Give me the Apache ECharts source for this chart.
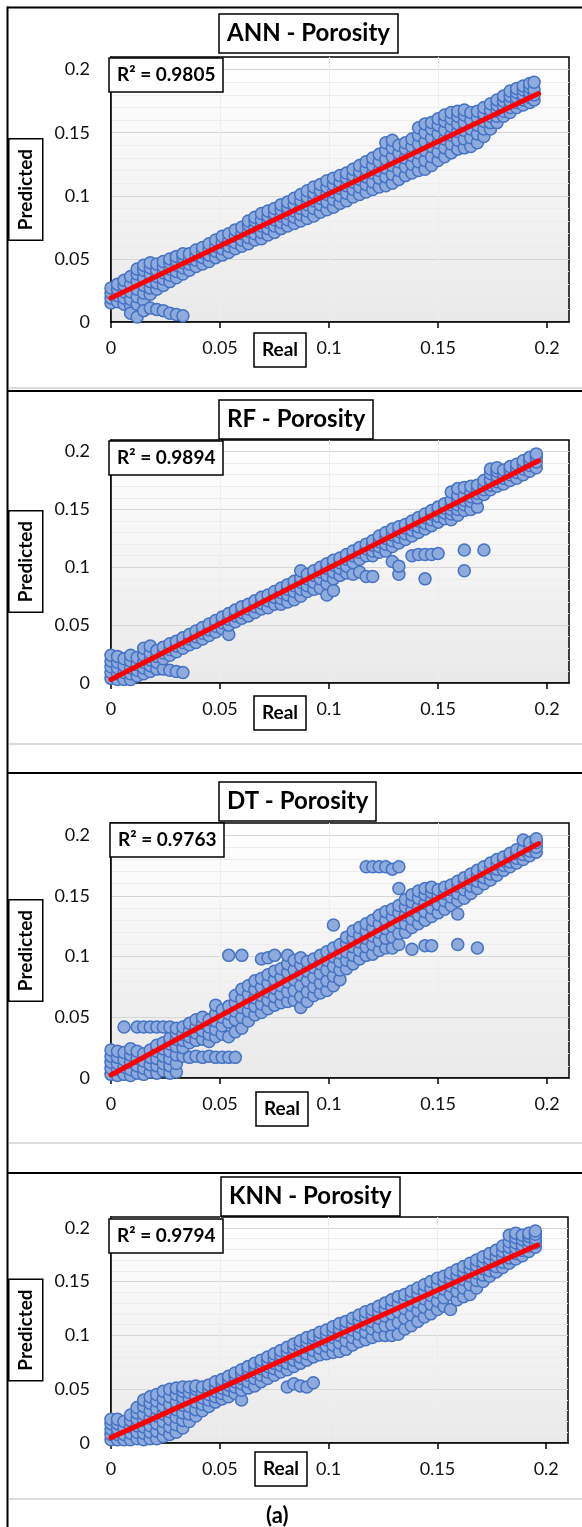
<!DOCTYPE html>
<html>
<head>
<meta charset="utf-8">
<title>Porosity - Real vs Predicted</title>
<script src="https://cdn.jsdelivr.net/npm/echarts@6/dist/echarts.min.js"></script>
<style>
    * { margin: 0; padding: 0; }
    body { background: #fff; overflow: hidden; }
    #main { width: 582px; height: 1527px; }
</style>
</head>
<body>
<div id="main"></div>
<script>
// shared tick labels
var tickVals = [0, 0.05, 0.1, 0.15, 0.2];

var panelNames = ['ANN - Porosity', 'RF - Porosity', 'DT - Porosity', 'KNN - Porosity'];
var r2Labels = ['R² = 0.9805', 'R² = 0.9894', 'R² = 0.9763', 'R² = 0.9794'];

// trend line ends [real, predicted]
var annTrend = [[0, 0.019], [0.196, 0.181]];
var rfTrend = [[0, 0.003], [0.196, 0.192]];
var dtTrend = [[0, 0.0025], [0.196, 0.193]];
var knnTrend = [[0, 0.005], [0.196, 0.184]];

// scatter columns: [real, predicted, predicted, ...]
var annRows = [
    [0.000, 0.015,0.019,0.023,0.027],
    [0.003, 0.016,0.021,0.026,0.030],
    [0.006, 0.014,0.019,0.024,0.029,0.033],
    [0.009, 0.013,0.018,0.024,0.030,0.036,0.007],
    [0.012, 0.014,0.020,0.026,0.032,0.038,0.042,0.004],
    [0.015, 0.017,0.023,0.029,0.035,0.041,0.045,0.009],
    [0.018, 0.022,0.027,0.032,0.038,0.043,0.047,0.011],
    [0.021, 0.026,0.031,0.036,0.041,0.046,0.010],
    [0.024, 0.029,0.034,0.039,0.044,0.048,0.009],
    [0.027, 0.032,0.037,0.042,0.047,0.050,0.007],
    [0.030, 0.035,0.040,0.045,0.049,0.052,0.006],
    [0.033, 0.038,0.043,0.047,0.051,0.054,0.005],
    [0.036, 0.041,0.046,0.050,0.054],
    [0.039, 0.044,0.049,0.053,0.057],
    [0.042, 0.046,0.051,0.055,0.059],
    [0.045, 0.048,0.053,0.058,0.062],
    [0.048, 0.051,0.056,0.060,0.065],
    [0.051, 0.053,0.058,0.063,0.068],
    [0.054, 0.055,0.060,0.065,0.070],
    [0.057, 0.058,0.063,0.068,0.073],
    [0.060, 0.060,0.065,0.070,0.075],
    [0.063, 0.062,0.067,0.072,0.077,0.080],
    [0.066, 0.065,0.070,0.075,0.080,0.083],
    [0.069, 0.066,0.071,0.076,0.081,0.086],
    [0.072, 0.069,0.074,0.079,0.084,0.088],
    [0.075, 0.071,0.076,0.081,0.086,0.090],
    [0.078, 0.074,0.079,0.084,0.089,0.093],
    [0.081, 0.076,0.081,0.086,0.091,0.095],
    [0.084, 0.078,0.083,0.088,0.093,0.098],
    [0.087, 0.080,0.085,0.090,0.096,0.101],
    [0.090, 0.082,0.088,0.093,0.099,0.104],
    [0.093, 0.084,0.090,0.096,0.102,0.107],
    [0.096, 0.087,0.093,0.098,0.104,0.109],
    [0.099, 0.089,0.095,0.101,0.107,0.112],
    [0.102, 0.091,0.097,0.103,0.109,0.114],
    [0.105, 0.094,0.100,0.106,0.111,0.116],
    [0.108, 0.096,0.102,0.108,0.114,0.118],
    [0.111, 0.099,0.105,0.111,0.116,0.121],
    [0.114, 0.101,0.107,0.113,0.119,0.124],
    [0.117, 0.103,0.109,0.115,0.121,0.127],
    [0.120, 0.105,0.111,0.118,0.124,0.130],
    [0.123, 0.107,0.114,0.120,0.127,0.133],
    [0.126, 0.108,0.115,0.122,0.129,0.136,0.142],
    [0.129, 0.110,0.117,0.124,0.131,0.138,0.144],
    [0.132, 0.113,0.120,0.127,0.134,0.140],
    [0.135, 0.116,0.123,0.130,0.137,0.142],
    [0.138, 0.118,0.125,0.132,0.139,0.145],
    [0.141, 0.120,0.127,0.134,0.141,0.148,0.154],
    [0.144, 0.121,0.128,0.136,0.143,0.150,0.157],
    [0.147, 0.124,0.131,0.139,0.146,0.153,0.158],
    [0.150, 0.128,0.135,0.142,0.149,0.156,0.161],
    [0.153, 0.131,0.138,0.145,0.152,0.159,0.164],
    [0.156, 0.134,0.141,0.148,0.155,0.161,0.166],
    [0.159, 0.137,0.144,0.151,0.157,0.163,0.167],
    [0.162, 0.138,0.145,0.152,0.158,0.164,0.168],
    [0.165, 0.139,0.146,0.153,0.160,0.166],
    [0.168, 0.142,0.149,0.156,0.162,0.167],
    [0.171, 0.147,0.153,0.159,0.165,0.170],
    [0.174, 0.153,0.158,0.163,0.168,0.173],
    [0.177, 0.158,0.163,0.167,0.172,0.176],
    [0.180, 0.163,0.167,0.171,0.175,0.179],
    [0.183, 0.166,0.170,0.175,0.179,0.183],
    [0.186, 0.170,0.174,0.178,0.182,0.185],
    [0.189, 0.172,0.176,0.180,0.184,0.187],
    [0.192, 0.174,0.178,0.182,0.186,0.189],
    [0.194, 0.176,0.180,0.184,0.190]
];

var rfRows = [
    [0.000, 0.004,0.009,0.014,0.019,0.024],
    [0.003, 0.003,0.008,0.013,0.018,0.023],
    [0.006, 0.003,0.009,0.015,0.021],
    [0.009, 0.003,0.008,0.013,0.019,0.024],
    [0.012, 0.006,0.011,0.016,0.022],
    [0.015, 0.008,0.013,0.018,0.024,0.030],
    [0.018, 0.010,0.015,0.020,0.026,0.032],
    [0.021, 0.012,0.018,0.023,0.028],
    [0.024, 0.012,0.021,0.026,0.031],
    [0.027, 0.011,0.024,0.029,0.034],
    [0.030, 0.010,0.027,0.032,0.036],
    [0.033, 0.009,0.030,0.035,0.039],
    [0.036, 0.033,0.038,0.042],
    [0.039, 0.035,0.040,0.045],
    [0.042, 0.038,0.043,0.048],
    [0.045, 0.041,0.046,0.051],
    [0.048, 0.044,0.049,0.054],
    [0.051, 0.047,0.052,0.057],
    [0.054, 0.042,0.050,0.055,0.060],
    [0.057, 0.053,0.058,0.063],
    [0.060, 0.056,0.061,0.066],
    [0.063, 0.058,0.064,0.068],
    [0.066, 0.061,0.066,0.071],
    [0.069, 0.064,0.069,0.074],
    [0.072, 0.065,0.071,0.076],
    [0.075, 0.068,0.074,0.079],
    [0.078, 0.068,0.073,0.078,0.082],
    [0.081, 0.070,0.076,0.081,0.085],
    [0.084, 0.072,0.079,0.084,0.088],
    [0.087, 0.075,0.081,0.087,0.091,0.097],
    [0.090, 0.079,0.084,0.090,0.094],
    [0.093, 0.081,0.087,0.093,0.097],
    [0.096, 0.082,0.090,0.096,0.100],
    [0.099, 0.076,0.086,0.093,0.099,0.103],
    [0.102, 0.080,0.090,0.096,0.102,0.106],
    [0.105, 0.093,0.099,0.104,0.108],
    [0.108, 0.095,0.101,0.107,0.111],
    [0.111, 0.094,0.104,0.110,0.114],
    [0.114, 0.096,0.107,0.113,0.117],
    [0.117, 0.092,0.110,0.116,0.120],
    [0.120, 0.092,0.110,0.114,0.119,0.123],
    [0.123, 0.113,0.118,0.122,0.127],
    [0.126, 0.114,0.120,0.125,0.130],
    [0.129, 0.105,0.118,0.123,0.128,0.133],
    [0.132, 0.094,0.101,0.121,0.126,0.131,0.135],
    [0.135, 0.124,0.129,0.134,0.137],
    [0.138, 0.110,0.127,0.132,0.137,0.140],
    [0.141, 0.111,0.130,0.135,0.140,0.143],
    [0.144, 0.090,0.111,0.133,0.138,0.143,0.146],
    [0.147, 0.111,0.136,0.141,0.146,0.149],
    [0.150, 0.112,0.139,0.144,0.149,0.152],
    [0.153, 0.142,0.147,0.151,0.155],
    [0.156, 0.141,0.146,0.150,0.154,0.158,0.165],
    [0.159, 0.145,0.150,0.154,0.158,0.162,0.168],
    [0.162, 0.097,0.115,0.149,0.154,0.158,0.162,0.169],
    [0.165, 0.150,0.157,0.161,0.165,0.170],
    [0.168, 0.152,0.160,0.164,0.168,0.171],
    [0.171, 0.115,0.163,0.167,0.171,0.175],
    [0.174, 0.167,0.171,0.176,0.181,0.185],
    [0.177, 0.170,0.174,0.179,0.183,0.186],
    [0.180, 0.172,0.177,0.181,0.184],
    [0.183, 0.175,0.180,0.184,0.187],
    [0.186, 0.177,0.182,0.186,0.189],
    [0.189, 0.180,0.185,0.189,0.192],
    [0.192, 0.183,0.188,0.192,0.195],
    [0.195, 0.186,0.191,0.195,0.198]
];

var dtRows = [
    [0.000, 0.003,0.008,0.013,0.018,0.023],
    [0.003, 0.002,0.007,0.012,0.017,0.022],
    [0.006, 0.003,0.009,0.015,0.021,0.042],
    [0.009, 0.002,0.007,0.013,0.019,0.024],
    [0.012, 0.004,0.010,0.016,0.022,0.042],
    [0.015, 0.003,0.008,0.014,0.020,0.042],
    [0.018, 0.005,0.011,0.017,0.023,0.042],
    [0.021, 0.004,0.010,0.016,0.022,0.027,0.042],
    [0.024, 0.006,0.012,0.018,0.024,0.029,0.042],
    [0.027, 0.004,0.010,0.016,0.022,0.028,0.033,0.042],
    [0.030, 0.005,0.012,0.019,0.026,0.032,0.037,0.041],
    [0.033, 0.018,0.025,0.031,0.036,0.042],
    [0.036, 0.017,0.029,0.034,0.039,0.045],
    [0.039, 0.018,0.031,0.037,0.042,0.048],
    [0.042, 0.017,0.032,0.039,0.045,0.050],
    [0.045, 0.018,0.030,0.036,0.042,0.048],
    [0.048, 0.017,0.034,0.040,0.047,0.053,0.060],
    [0.051, 0.017,0.036,0.043,0.050,0.056],
    [0.054, 0.017,0.034,0.046,0.053,0.059,0.101],
    [0.057, 0.017,0.038,0.048,0.055,0.062,0.068],
    [0.060, 0.041,0.050,0.058,0.065,0.073,0.101],
    [0.063, 0.047,0.055,0.062,0.069,0.076],
    [0.066, 0.052,0.059,0.066,0.073,0.080],
    [0.069, 0.054,0.061,0.068,0.075,0.082,0.098],
    [0.072, 0.057,0.064,0.071,0.078,0.085,0.099],
    [0.075, 0.060,0.067,0.074,0.081,0.088,0.101],
    [0.078, 0.062,0.069,0.076,0.083,0.090],
    [0.081, 0.063,0.071,0.079,0.087,0.094,0.101],
    [0.084, 0.064,0.072,0.081,0.089,0.097],
    [0.087, 0.058,0.067,0.076,0.085,0.093,0.099],
    [0.090, 0.063,0.071,0.080,0.088,0.096],
    [0.093, 0.068,0.075,0.083,0.091,0.098],
    [0.096, 0.070,0.078,0.086,0.094,0.101],
    [0.099, 0.072,0.080,0.089,0.097,0.104],
    [0.102, 0.076,0.084,0.092,0.100,0.107,0.126],
    [0.105, 0.081,0.089,0.096,0.103,0.110],
    [0.108, 0.090,0.097,0.104,0.111,0.116],
    [0.111, 0.094,0.101,0.108,0.115,0.121],
    [0.114, 0.098,0.105,0.112,0.118,0.124],
    [0.117, 0.101,0.108,0.115,0.121,0.127,0.174],
    [0.120, 0.102,0.110,0.117,0.124,0.130,0.174],
    [0.123, 0.105,0.113,0.120,0.127,0.134,0.174],
    [0.126, 0.107,0.115,0.123,0.130,0.137,0.174],
    [0.129, 0.107,0.116,0.125,0.133,0.139,0.172],
    [0.132, 0.110,0.119,0.128,0.136,0.142,0.156,0.174],
    [0.135, 0.120,0.127,0.134,0.141,0.147],
    [0.138, 0.106,0.124,0.131,0.138,0.145,0.151],
    [0.141, 0.127,0.134,0.141,0.148,0.154],
    [0.144, 0.109,0.130,0.137,0.144,0.151,0.156],
    [0.147, 0.109,0.133,0.140,0.147,0.153,0.157],
    [0.150, 0.136,0.143,0.150,0.155],
    [0.153, 0.139,0.146,0.152,0.157],
    [0.156, 0.142,0.149,0.155,0.159],
    [0.159, 0.110,0.135,0.146,0.152,0.158,0.162],
    [0.162, 0.148,0.155,0.161,0.165],
    [0.165, 0.152,0.158,0.164,0.168],
    [0.168, 0.107,0.156,0.162,0.167,0.171],
    [0.171, 0.160,0.165,0.170,0.174],
    [0.174, 0.163,0.168,0.173,0.177],
    [0.177, 0.167,0.172,0.176,0.180],
    [0.180, 0.171,0.175,0.179,0.182],
    [0.183, 0.174,0.178,0.182,0.185],
    [0.186, 0.177,0.181,0.185,0.188],
    [0.189, 0.180,0.184,0.188,0.196],
    [0.192, 0.183,0.187,0.191,0.194],
    [0.195, 0.186,0.190,0.194,0.197]
];

var knnRows = [
    [0.000, 0.003,0.008,0.013,0.018,0.022],
    [0.003, 0.003,0.008,0.013,0.018,0.022],
    [0.006, 0.003,0.008,0.014,0.020],
    [0.009, 0.003,0.009,0.015,0.021,0.026],
    [0.012, 0.004,0.010,0.016,0.022,0.028,0.033],
    [0.015, 0.003,0.009,0.015,0.021,0.027,0.034,0.040],
    [0.018, 0.004,0.010,0.016,0.023,0.030,0.037,0.043],
    [0.021, 0.004,0.011,0.018,0.025,0.032,0.039,0.045],
    [0.024, 0.006,0.013,0.020,0.027,0.034,0.041,0.048],
    [0.027, 0.008,0.015,0.022,0.029,0.036,0.043,0.050],
    [0.030, 0.010,0.017,0.024,0.031,0.038,0.045,0.051],
    [0.033, 0.014,0.021,0.028,0.035,0.042,0.048,0.052],
    [0.036, 0.020,0.027,0.034,0.041,0.047,0.052],
    [0.039, 0.025,0.031,0.038,0.044,0.050,0.053],
    [0.042, 0.030,0.036,0.042,0.047,0.052],
    [0.045, 0.034,0.040,0.045,0.050,0.054],
    [0.048, 0.038,0.043,0.048,0.053,0.057],
    [0.051, 0.041,0.046,0.051,0.056,0.059],
    [0.054, 0.043,0.049,0.054,0.059,0.062],
    [0.057, 0.046,0.052,0.057,0.062,0.065],
    [0.060, 0.040,0.049,0.055,0.060,0.065,0.068],
    [0.063, 0.051,0.057,0.063,0.068,0.071],
    [0.066, 0.053,0.060,0.066,0.071,0.074],
    [0.069, 0.057,0.063,0.069,0.074,0.077],
    [0.072, 0.060,0.066,0.071,0.076,0.080],
    [0.075, 0.063,0.069,0.074,0.079,0.083],
    [0.078, 0.066,0.072,0.077,0.082,0.086],
    [0.081, 0.052,0.068,0.074,0.080,0.085,0.089],
    [0.084, 0.055,0.071,0.077,0.083,0.088,0.092],
    [0.087, 0.053,0.074,0.080,0.086,0.091,0.095],
    [0.090, 0.052,0.077,0.083,0.089,0.094,0.098],
    [0.093, 0.056,0.080,0.086,0.092,0.097,0.100],
    [0.096, 0.082,0.088,0.094,0.099,0.103],
    [0.099, 0.083,0.090,0.096,0.101,0.105],
    [0.102, 0.084,0.091,0.098,0.104,0.108],
    [0.105, 0.085,0.093,0.100,0.106,0.111],
    [0.108, 0.087,0.095,0.103,0.109,0.113],
    [0.111, 0.091,0.098,0.105,0.111,0.116],
    [0.114, 0.094,0.101,0.108,0.114,0.119],
    [0.117, 0.096,0.103,0.110,0.117,0.122],
    [0.120, 0.098,0.106,0.113,0.120,0.124],
    [0.123, 0.100,0.108,0.116,0.122,0.127],
    [0.126, 0.100,0.109,0.118,0.125,0.130],
    [0.129, 0.100,0.110,0.120,0.127,0.133],
    [0.132, 0.101,0.112,0.122,0.130,0.136],
    [0.135, 0.106,0.116,0.125,0.133,0.138],
    [0.138, 0.109,0.119,0.128,0.136,0.141],
    [0.141, 0.113,0.123,0.131,0.139,0.144],
    [0.144, 0.117,0.126,0.134,0.141,0.147],
    [0.147, 0.120,0.129,0.137,0.144,0.150],
    [0.150, 0.124,0.132,0.140,0.147,0.153],
    [0.153, 0.127,0.135,0.143,0.150,0.155],
    [0.156, 0.124,0.138,0.146,0.153,0.158],
    [0.159, 0.133,0.141,0.149,0.156,0.161],
    [0.162, 0.136,0.144,0.152,0.159,0.164],
    [0.165, 0.138,0.147,0.155,0.162,0.167],
    [0.168, 0.144,0.151,0.158,0.165,0.170],
    [0.171, 0.150,0.156,0.162,0.168,0.173],
    [0.174, 0.155,0.160,0.166,0.171,0.176],
    [0.177, 0.159,0.164,0.169,0.174,0.179],
    [0.180, 0.163,0.168,0.173,0.178,0.183],
    [0.183, 0.167,0.172,0.177,0.182,0.187,0.193],
    [0.186, 0.171,0.176,0.181,0.186,0.191,0.195],
    [0.189, 0.174,0.179,0.184,0.189,0.193],
    [0.192, 0.178,0.183,0.188,0.192,0.195],
    [0.195, 0.182,0.186,0.190,0.194,0.197]
];

// one column row -> several [x, y] points
function toPoints(rows) {
    var pts = [];
    rows.forEach(function (r) {
        for (var k = 1; k < r.length; k++) pts.push([r[0], r[k]]);
    });
    return pts;
}

var pointSets = [toPoints(annRows), toPoints(rfRows), toPoints(dtRows), toPoints(knnRows)];
var trendSets = [annTrend, rfTrend, dtTrend, knnTrend];

// page layout of the four panels (pixels)
var layout = [
    { grid: [110, 57, 459, 265], title: [219, 14], r2: [109, 58], real: [254, 333], gap: 66 },
    { grid: [110, 440, 459, 243], title: [219, 400], r2: [109, 441], real: [254, 696], gap: 66 },
    { grid: [110, 823, 459, 255], title: [219, 782], r2: [110, 823], real: [256, 1092], gap: 66 },
    { grid: [109, 1217, 459, 226], title: [221, 1177], r2: [109, 1219], real: [255, 1452], gap: 62 }
];

var FONT = 'Lato';
var boxText = function (size) {
    return { fontFamily: FONT, fontWeight: 'bold', fontSize: size, lineHeight: size + 1, color: '#000' };
};

var grids = [], xAxes = [], yAxes = [], series = [], titles = [];

layout.forEach(function (p, i) {
    grids.push({
        left: p.grid[0], top: p.grid[1], width: p.grid[2], height: p.grid[3],
        show: true,
        borderColor: '#000',
        borderWidth: 1.5,
        backgroundColor: {
            type: 'linear', x: 0, y: 0, x2: 0, y2: 1,
            colorStops: [{ offset: 0, color: '#ffffff' }, { offset: 1, color: '#e9e9e9' }]
        }
    });
    var axisBase = {
        type: 'value', gridIndex: i, min: 0, max: 0.21, interval: 0.01,
        axisLine: { show: true, onZero: false, lineStyle: { color: '#000', width: 1.5 } },
        axisLabel: { customValues: tickVals, fontFamily: FONT, fontSize: 18, color: '#111' },
        splitLine: {
            show: true, showMaxLine: false,
            lineStyle: { width: 1, color: ['#d6d6d6', '#ededed', '#ededed', '#ededed', '#ededed'] }
        }
    };
    xAxes.push(echarts.util.merge({
        position: 'bottom',
        axisTick: { show: true, customValues: tickVals, length: 6, lineStyle: { color: '#000', width: 1.5 } },
        axisLabel: { margin: 17 }
    }, axisBase));
    yAxes.push(echarts.util.merge({
        position: 'left',
        axisTick: { show: false },
        axisLabel: { margin: 21 },
        name: 'Predicted',
        nameLocation: 'middle',
        nameRotate: 90,
        nameGap: p.gap,
        nameTextStyle: echarts.util.extend(boxText(19), {
            borderColor: '#000', borderWidth: 1.5, padding: [7, 10]
        })
    }, axisBase));

    series.push({
        type: 'scatter', xAxisIndex: i, yAxisIndex: i,
        data: pointSets[i],
        symbolSize: 12,
        itemStyle: { color: '#8faadc', borderColor: '#4472c4', borderWidth: 1.5, opacity: 1 },
        silent: true, z: 2
    });
    series.push({
        type: 'line', xAxisIndex: i, yAxisIndex: i,
        data: trendSets[i],
        symbol: 'none',
        lineStyle: { color: '#ff0000', width: 5, cap: 'round' },
        silent: true, z: 3
    });

    titles.push({
        text: panelNames[i], left: p.title[0], top: p.title[1],
        padding: [7, 8], borderColor: '#000', borderWidth: 1.5,
        textStyle: boxText(24)
    });
    titles.push({
        text: r2Labels[i], left: p.r2[0], top: p.r2[1],
        padding: [7, 8], borderColor: '#000', borderWidth: 1.5, backgroundColor: '#fff',
        textStyle: boxText(19)
    });
    titles.push({
        text: 'Real', left: p.real[0], top: p.real[1],
        padding: [7, 8], borderColor: '#000', borderWidth: 1.5,
        textStyle: boxText(19)
    });
});

titles.push({ text: '(a)', left: 266, top: 1504, padding: 0, textStyle: boxText(22) });

// frame lines around the panels
var frame = [
    { type: 'line', shape: { x1: 7.5, y1: 6.5, x2: 7.5, y2: 1527 }, style: { stroke: '#000', lineWidth: 2 } },
    { type: 'line', shape: { x1: 7, y1: 7.5, x2: 582, y2: 7.5 }, style: { stroke: '#000', lineWidth: 2 } }
];
[391, 773, 1173].forEach(function (y) {
    frame.push({ type: 'line', shape: { x1: 7, y1: y, x2: 582, y2: y }, style: { stroke: '#000', lineWidth: 2 } });
});
[388, 744, 1143, 1499].forEach(function (y) {
    frame.push({ type: 'line', shape: { x1: 9, y1: y, x2: 582, y2: y }, style: { stroke: '#dcdcdc', lineWidth: 2 } });
});

var myChart = echarts.init(document.getElementById('main'), null, { renderer: 'canvas' });
myChart.setOption({
    animation: false,
    backgroundColor: '#fff',
    title: titles,
    grid: grids,
    xAxis: xAxes,
    yAxis: yAxes,
    series: series,
    graphic: frame
});
</script>
</body>
</html>
